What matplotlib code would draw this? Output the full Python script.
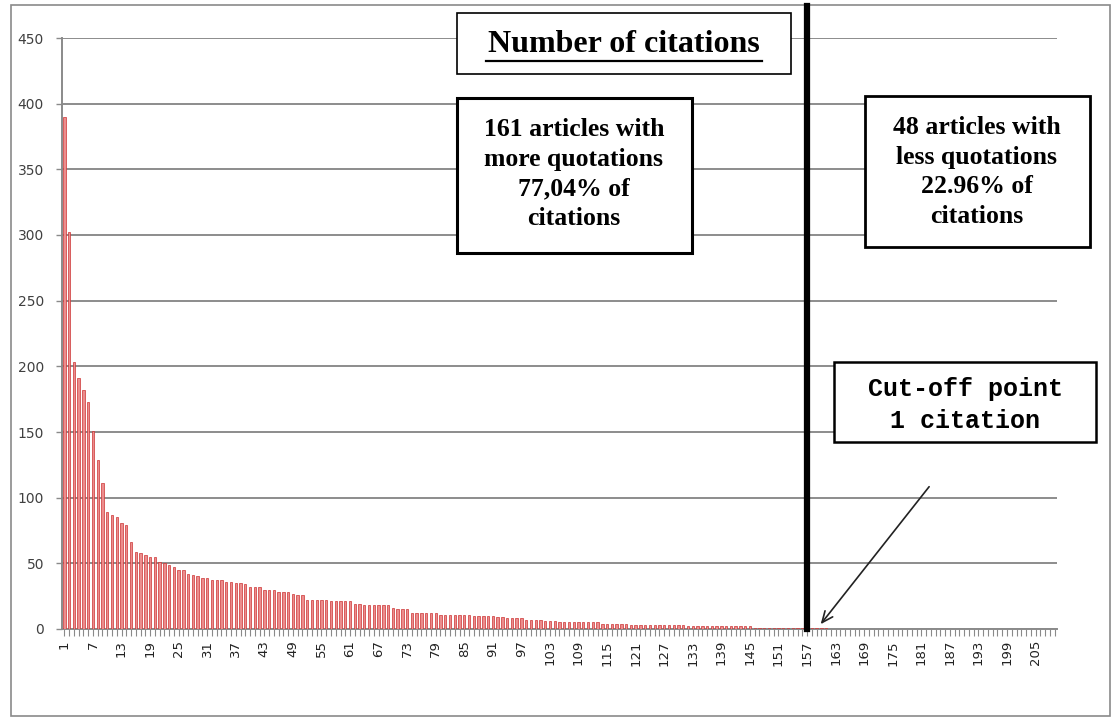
import matplotlib
matplotlib.use("Agg")
import matplotlib.pyplot as plt
from matplotlib.patches import Rectangle
from matplotlib.lines import Line2D

# 文章编号 1..209
articles = list(range(1, 210))
# 每篇文章的引用次数
citations = [
    390, 302, 203, 191, 182, 173, 151, 129, 111, 89,
    87, 85, 81, 79, 66, 59, 58, 56, 55, 55,
    51, 50, 49, 47, 45, 45, 42, 41, 40, 39,
    39, 37, 37, 37, 36, 36, 35, 35, 34, 32,
    32, 32, 30, 30, 30, 28, 28, 28, 27, 26,
    26, 22, 22, 22, 22, 22, 21, 21, 21, 21,
    21, 19, 19, 18, 18, 18, 18, 18, 18, 16,
    15, 15, 15, 12, 12, 12, 12, 12, 12, 11,
    11, 11, 11, 11, 11, 11, 10, 10, 10, 10,
    10, 9, 9, 8, 8, 8, 8, 7, 7, 7,
    7, 6, 6, 6, 5, 5, 5, 5, 5, 5,
    5, 5, 5, 4, 4, 4, 4, 4, 4, 3,
    3, 3, 3, 3, 3, 3, 3, 3, 3, 3,
    3, 2, 2, 2, 2, 2, 2, 2, 2, 2,
    2, 2, 2, 2, 2, 1, 1, 1, 1, 1,
    1, 1, 1, 1, 1, 1, 1, 1, 1, 1,
    1,
] + [0] * 48
x_tick_labels = [str(a) for a in articles[::6]]
y_ticks = list(range(0, 451, 50))
cutoff = 157

title_text = "Number of citations"
left_text = "161 articles with\nmore quotations\n77,04% of\ncitations"
right_text = "48 articles with\nless quotations\n22.96% of\ncitations"
cut_text = "Cut-off point\n1 citation"

W, H = 1113, 722

def fx(px):
    return px / W

def fy(py):
    return 1 - py / H

def box(fig, x0, y0, x1, y1, lw):
    fig.add_artist(Rectangle((fx(x0), fy(y1)), (x1 - x0) / W, (y1 - y0) / H,
                             transform=fig.transFigure, facecolor='white',
                             edgecolor='black', linewidth=lw, zorder=3))

fig = plt.figure(figsize=(W / 100, H / 100), dpi=100, facecolor='white')

# 外框
fig.add_artist(Rectangle((fx(11), fy(716)), (1110 - 11) / W, (716 - 5) / H,
                         transform=fig.transFigure, fill=False,
                         edgecolor='#8a8a8a', linewidth=1.2, zorder=0))

ax = fig.add_axes([fx(62), fy(629), (1057 - 62) / W, (629 - 38) / H])
ax.bar(articles, citations, width=0.5, facecolor='#ec8d8d',
       edgecolor='#cc3333', linewidth=0.5, zorder=3)

ax.set_xlim(0.5, 209.5)
ax.set_ylim(0, 450)
ax.set_yticks(y_ticks)
ax.set_yticklabels([str(v) for v in y_ticks], fontsize=10, color='#404040')
ax.set_xticks(articles[::6])
ax.set_xticklabels(x_tick_labels, rotation=90, fontsize=9.5, color='#222222')
ax.set_xticks(articles, minor=True)
ax.tick_params(axis='y', length=4, width=1, color='#8a8a8a', pad=9)
ax.tick_params(axis='x', which='both', length=5, width=0.8, color='#8a8a8a', pad=3)
ax.grid(axis='y', color='#8c8c8c', linewidth=1.4, zorder=1)
ax.set_axisbelow(True)
for s in ['top', 'right']:
    ax.spines[s].set_visible(False)
for s in ['left', 'bottom']:
    ax.spines[s].set_color('#8a8a8a')
    ax.spines[s].set_linewidth(1.4)
    ax.spines[s].set_zorder(2)

# 截断线
ax.plot([cutoff, cutoff], [0, 474], color='black', linewidth=4.5,
        clip_on=False, zorder=6)
# 箭头
ax.annotate('', xy=(cutoff + 2.5, 2), xytext=(cutoff + 26, 110),
            arrowprops=dict(arrowstyle='->,head_length=0.8,head_width=0.35',
                            color='#222222', lw=1.2), zorder=6)

# 标题框
box(fig, 457, 13, 791, 74, 1.2)
fig.text(fx(624), fy(44), title_text, ha='center', va='center',
         family='Liberation Serif', fontweight='bold', fontsize=23, zorder=4)
fig.add_artist(Line2D([fx(486), fx(762)], [fy(61), fy(61)], color='black',
                      linewidth=1.6, transform=fig.transFigure, zorder=4))

# 左侧说明框
box(fig, 457, 98, 692, 253, 2.2)
fig.text(fx(574), fy(174), left_text, ha='center', va='center',
         family='Liberation Serif', fontweight='bold', fontsize=18.5,
         linespacing=1.38, zorder=4)

# 右侧说明框
box(fig, 865, 96, 1090, 247, 2.0)
fig.text(fx(977), fy(172), right_text, ha='center', va='center',
         family='Liberation Serif', fontweight='bold', fontsize=18.5,
         linespacing=1.38, zorder=4)

# 截断点说明
box(fig, 834, 362, 1096, 442, 1.8)
fig.text(fx(965), fy(405), cut_text, ha='center', va='center',
         family='Liberation Mono', fontweight='bold', fontsize=18,
         linespacing=1.4, zorder=4)

fig.savefig('out.png', dpi=100)
